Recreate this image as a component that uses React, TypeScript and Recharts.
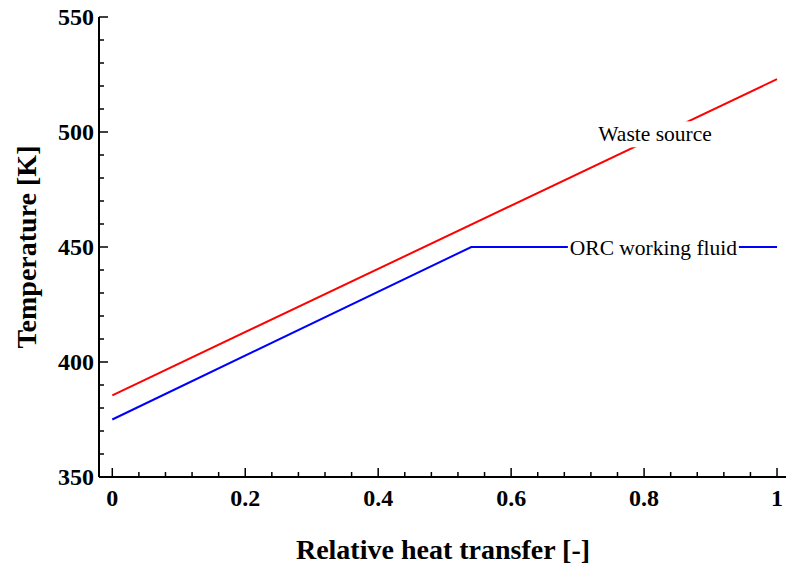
import React from "react";
import {
  LineChart,
  Line,
  XAxis,
  YAxis,
  ReferenceDot,
} from "recharts";

const wasteX = [0, 1];
const wasteT = [385.5, 523];

const orcX = [0, 0.54, 1];
const orcT = [375, 450, 450];

const xTicks = [
  0, 0.04, 0.08, 0.12, 0.16, 0.2, 0.24, 0.28, 0.32, 0.36, 0.4, 0.44, 0.48,
  0.52, 0.56, 0.6, 0.64, 0.68, 0.72, 0.76, 0.8, 0.84, 0.88, 0.92, 0.96, 1,
];
const xLabels = [0, 0.2, 0.4, 0.6, 0.8, 1];

const yTicks = [
  350, 360, 370, 380, 390, 400, 410, 420, 430, 440, 450, 460, 470, 480, 490,
  500, 510, 520, 530, 540, 550,
];
const yLabels = [350, 400, 450, 500, 550];

const labelText = ["Waste source", "ORC working fluid"];
const labelX = [0.8165, 0.814];
const labelT = [499, 449.6];
const labelBox = [118, 171];

const wasteData = wasteX.map((x, i) => ({ x, t: wasteT[i] }));
const orcData = orcX.map((x, i) => ({ x, t: orcT[i] }));

const FONT = "'Liberation Serif', 'Times New Roman', serif";
const MAJOR = 9;
const MINOR = 5;

const isLabelX = (v: number) => xLabels.some((l) => Math.abs(l - v) < 1e-6);
const isLabelY = (v: number) => yLabels.some((l) => Math.abs(l - v) < 1e-6);

function BottomTick(props: any) {
  const { x, y, payload } = props;
  const major = isLabelX(payload.value);
  return (
    <g>
      <line x1={x} x2={x} y1={y} y2={y - (major ? MAJOR : MINOR)} stroke="#000" strokeWidth={1.5} />
      {major && (
        <text x={x} y={y + 29} textAnchor="middle" fontFamily={FONT} fontWeight="bold" fontSize={24} fill="#000">
          {String(payload.value)}
        </text>
      )}
    </g>
  );
}

function TopTick(props: any) {
  const { x, y, payload } = props;
  const major = isLabelX(payload.value);
  return <line x1={x} x2={x} y1={y} y2={y + (major ? MAJOR : MINOR)} stroke="#000" strokeWidth={1.5} />;
}

function LeftTick(props: any) {
  const { x, y, payload } = props;
  const major = isLabelY(payload.value);
  return (
    <g>
      <line x1={x} x2={x + (major ? MAJOR : MINOR)} y1={y} y2={y} stroke="#000" strokeWidth={1.5} />
      {major && (
        <text x={x - 5} y={y + 8} textAnchor="end" fontFamily={FONT} fontWeight="bold" fontSize={24} fill="#000">
          {String(payload.value)}
        </text>
      )}
    </g>
  );
}

function RightTick(props: any) {
  const { x, y, payload } = props;
  const major = isLabelY(payload.value);
  return <line x1={x} x2={x - (major ? MAJOR : MINOR)} y1={y} y2={y} stroke="#000" strokeWidth={1.5} />;
}

function BoxLabel(props: any) {
  const { viewBox, text, boxW } = props;
  const cx = viewBox.x + viewBox.width / 2;
  const cy = viewBox.y + viewBox.height / 2;
  return (
    <g>
      <rect x={cx - boxW / 2} y={cy - 13} width={boxW} height={26} fill="#fff" />
      <text x={cx} y={cy + 7} textAnchor="middle" fontFamily={FONT} fontSize={21.5} fill="#000">
        {text}
      </text>
    </g>
  );
}

const axisLine = { stroke: "#000", strokeWidth: 2 };

export default function App() {
  return (
    <div
      style={{
        position: "absolute",
        left: 0,
        top: 0,
        width: 786,
        height: 567,
        overflow: "hidden",
        background: "#fff",
      }}
    >
      <LineChart width={787} height={567} margin={{ top: 17, right: 0, bottom: 0, left: 0 }}>
        <XAxis
          xAxisId="b"
          type="number"
          dataKey="x"
          domain={[-0.02, 1.015]}
          ticks={xTicks}
          interval={0}
          height={90}
          tickSize={0}
          tickMargin={0}
          tickLine={false}
          axisLine={axisLine}
          tick={<BottomTick />}
          label={{
            value: "Relative heat transfer [-]",
            position: "insideBottom",
            offset: 8,
            style: { fontFamily: FONT, fontWeight: "bold", fontSize: 28, fill: "#000" },
          }}
        />
        <XAxis
          xAxisId="t"
          orientation="top"
          type="number"
          dataKey="x"
          domain={[-0.02, 1.015]}
          ticks={xTicks}
          interval={0}
          height={0}
          tickSize={0}
          tickMargin={0}
          tickLine={false}
          axisLine={axisLine}
          tick={<TopTick />}
        />
        <YAxis
          yAxisId="l"
          type="number"
          domain={[350, 550]}
          ticks={yTicks}
          interval={0}
          width={99}
          tickSize={0}
          tickMargin={0}
          tickLine={false}
          axisLine={axisLine}
          tick={<LeftTick />}
          label={{
            value: "Temperature [K]",
            angle: -90,
            position: "insideLeft",
            offset: 26,
            style: { fontFamily: FONT, fontWeight: "bold", fontSize: 28, fill: "#000", textAnchor: "middle" },
          }}
        />
        <YAxis
          yAxisId="r"
          orientation="right"
          type="number"
          domain={[350, 550]}
          ticks={yTicks}
          interval={0}
          width={0}
          tickSize={0}
          tickMargin={0}
          tickLine={false}
          axisLine={axisLine}
          tick={<RightTick />}
        />
        <Line
          xAxisId="b"
          yAxisId="l"
          data={wasteData}
          dataKey="t"
          stroke="#ff0000"
          strokeWidth={2}
          dot={false}
          isAnimationActive={false}
        />
        <Line
          xAxisId="b"
          yAxisId="l"
          data={orcData}
          dataKey="t"
          stroke="#0000ff"
          strokeWidth={2}
          dot={false}
          isAnimationActive={false}
        />
        {labelText.map((t, i) => (
          <ReferenceDot
            key={t}
            xAxisId="b"
            yAxisId="l"
            x={labelX[i]}
            y={labelT[i]}
            r={1}
            fill="none"
            stroke="none"
            ifOverflow="visible"
            label={<BoxLabel text={t} boxW={labelBox[i]} />}
          />
        ))}
      </LineChart>
    </div>
  );
}
